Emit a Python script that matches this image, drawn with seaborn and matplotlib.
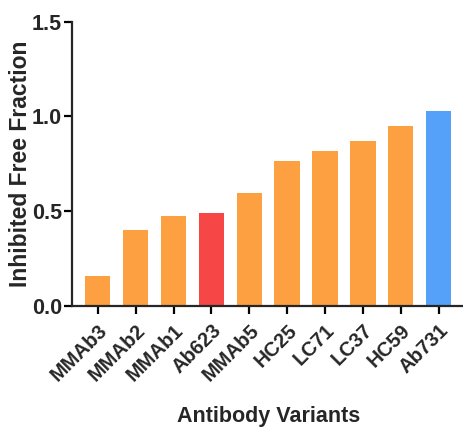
import pandas as pd
import seaborn as sns
import matplotlib.pyplot as plt

# Values
variants = ['MMAb3', 'MMAb2', 'MMAb1', 'Ab623', 'MMAb5',
            'HC25', 'LC71', 'LC37', 'HC59', 'Ab731']
inhibited = [0.156, 0.397, 0.475, 0.487, 0.593,
             0.762, 0.817, 0.868, 0.947, 1.030]
bar_colors = ['#FDA042', '#FDA042', '#FDA042', '#F64646', '#FDA042',
              '#FDA042', '#FDA042', '#FDA042', '#FDA042', '#55A0F8']

df = pd.DataFrame({'variant': variants, 'value': inhibited})

sns.set_style('ticks')
plt.rcParams['font.family'] = ['Liberation Sans', 'DejaVu Sans']
plt.rcParams['font.weight'] = 'bold'

fig = plt.figure(figsize=(4.64, 4.28), dpi=100)
ax = fig.add_axes([0.156, 0.286, 0.844, 0.663])

sns.barplot(data=df, x='variant', y='value', hue='variant',
            palette=bar_colors, width=0.67, legend=False,
            edgecolor='none', saturation=1, ax=ax)

ax.set_xlim(-0.67, 9.67)
ax.set_ylim(0, 1.5)
ax.set_yticks([0.0, 0.5, 1.0, 1.5])
ax.set_yticklabels(['0.0', '0.5', '1.0', '1.5'], fontsize=15.5, fontweight='bold')

ax.set_xticks(range(len(variants)))
ax.set_xticklabels(variants, rotation=45, ha='right', rotation_mode='anchor',
                   fontsize=14.5, fontweight='bold')
for lbl in ax.get_xticklabels():
    lbl.set_y(-0.012)

ax.set_ylabel('Inhibited Free Fraction', fontsize=16.5, fontweight='bold', labelpad=0)
ax.set_xlabel('Antibody Variants', fontsize=15.5, fontweight='bold', labelpad=15)

sns.despine(ax=ax)
ax.spines['left'].set_linewidth(1.6)
ax.spines['bottom'].set_linewidth(1.6)
ax.tick_params(axis='both', width=1.6, length=5.5, color='black', pad=2)
ax.tick_params(axis='x', pad=3)

fig.savefig('out.png', dpi=100)
